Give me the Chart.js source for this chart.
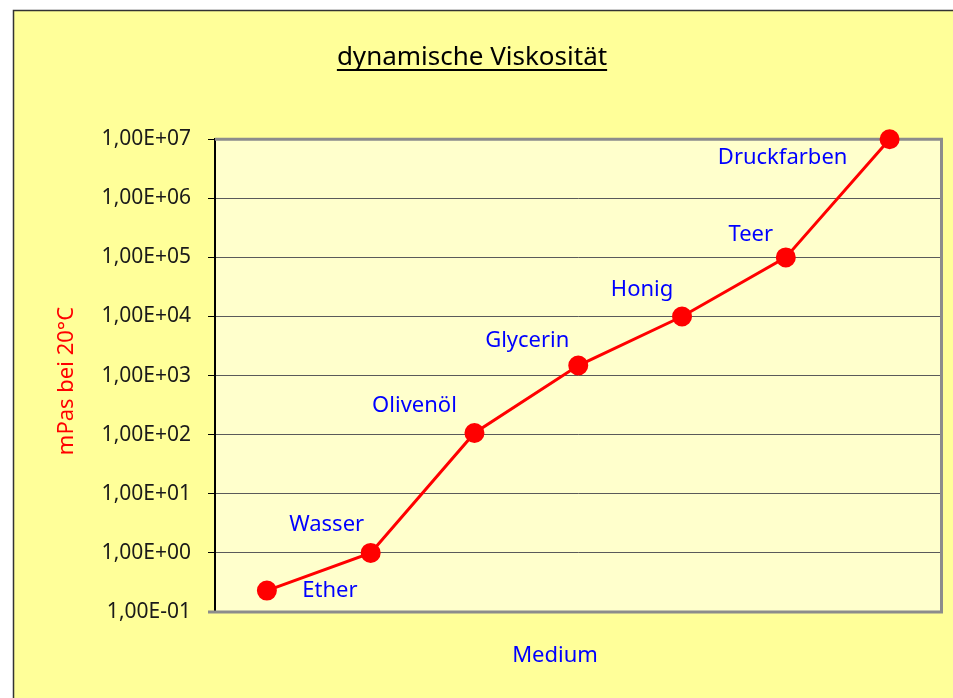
<!DOCTYPE html>
<html>
<head>
<meta charset="utf-8">
<title>dynamische Viskosität</title>
<script src="https://cdn.jsdelivr.net/npm/chart.js@4.4.0/dist/chart.umd.min.js"></script>
<style>
  html, body { margin: 0; padding: 0; background: #fff; }
  #wrap { position: absolute; left: 0; top: 0; width: 953px; height: 698px; }
</style>
</head>
<body>
<div id="wrap"><canvas id="chart"></canvas></div>
<script>
var media = ['Ether', 'Wasser', 'Olivenöl', 'Glycerin', 'Honig', 'Teer', 'Druckfarben'];
var viscosity = [0.23, 1, 107, 1480, 10000, 100000, 10000000];
var tickValues = [0.1, 1, 10, 100, 1000, 10000, 100000, 1000000, 10000000];
var chartTitle = 'dynamische Viskosität';
var yTitle = 'mPas bei 20°C';
var xTitle = 'Medium';

// where each point label sits, relative to its point (px)
var labelOffsets = [[63, 0], [-44, -28], [-60, -27], [-51, -25], [-40, -27], [-35, -23], [-107, 19]];

var FONT = '"Noto Sans", "Open Sans", sans-serif';

// 1000 -> "1,00E+03"
function sci(v) {
    var parts = Number(v).toExponential(2).split('e');
    var n = parseInt(parts[1], 10);
    var exp = String(Math.abs(n));
    if (exp.length < 2) exp = '0' + exp;
    return parts[0].replace('.', ',') + 'E' + (n < 0 ? '-' : '+') + exp;
}

var background = {
    id: 'background',
    beforeDraw: function(chart) {
        var ctx = chart.ctx, a = chart.chartArea;
        ctx.save();
        ctx.fillStyle = '#ffffff';
        ctx.fillRect(0, 0, chart.width, chart.height);
        ctx.fillStyle = '#ffff99';
        ctx.fillRect(13, 10, chart.width, chart.height);
        ctx.strokeStyle = '#333333';
        ctx.lineWidth = 1.5;
        ctx.beginPath();
        ctx.moveTo(13.5, chart.height + 5);
        ctx.lineTo(13.5, 10.5);
        ctx.lineTo(chart.width + 5, 10.5);
        ctx.stroke();
        ctx.fillStyle = '#ffffcc';
        ctx.fillRect(a.left, a.top, a.right - a.left, a.bottom - a.top);
        ctx.restore();
    },
    beforeDatasetsDraw: function(chart) {
        var ctx = chart.ctx, a = chart.chartArea;
        ctx.save();
        ctx.strokeStyle = '#8c8c8c';
        ctx.lineWidth = 3;
        ctx.beginPath();
        ctx.moveTo(a.left, a.top);
        ctx.lineTo(a.right, a.top);
        ctx.lineTo(a.right, a.bottom);
        ctx.lineTo(a.left - 7, a.bottom);
        ctx.stroke();
        ctx.restore();
    }
};

var labels = {
    id: 'pointLabels',
    afterDatasetsDraw: function(chart) {
        var ctx = chart.ctx;
        var meta = chart.getDatasetMeta(0);
        ctx.save();
        ctx.font = '22px ' + FONT;
        ctx.fillStyle = '#0000ff';
        ctx.textAlign = 'center';
        ctx.textBaseline = 'middle';
        meta.data.forEach(function(pt, i) {
            ctx.fillText(media[i], pt.x + labelOffsets[i][0], pt.y + labelOffsets[i][1]);
        });
        // x axis title, as in the original it is not centred on the plot
        ctx.fillText(xTitle, 555, 656);

        // y axis title
        ctx.save();
        ctx.translate(67, 381);
        ctx.rotate(-Math.PI / 2);
        ctx.fillStyle = '#ff0000';
        ctx.fillText(yTitle, 0, 0);
        ctx.restore();

        // underline the chart title
        var tb = chart.titleBlock;
        ctx.font = '26px ' + FONT;
        var w = ctx.measureText(chartTitle).width;
        var cx = (tb.left + tb.right) / 2;
        ctx.strokeStyle = '#000000';
        ctx.lineWidth = 2;
        ctx.beginPath();
        ctx.moveTo(cx - w / 2, 70);
        ctx.lineTo(cx + w / 2, 70);
        ctx.stroke();
        ctx.restore();
    }
};

new Chart(document.getElementById('chart'), {
    type: 'line',
    data: {
        labels: media,
        datasets: [{
            label: 'Viskosität',
            data: viscosity,
            borderColor: '#ff0000',
            backgroundColor: '#ff0000',
            borderWidth: 3,
            pointRadius: 8.5,
            pointHoverRadius: 8.5,
            pointBackgroundColor: '#ff0000',
            pointBorderColor: '#ff0000',
            tension: 0,
            clip: false
        }]
    },
    options: {
        responsive: true,
        maintainAspectRatio: false,
        animation: false,
        layout: { padding: { left: 0, right: 9, top: 0, bottom: 0 } },
        plugins: {
            legend: { display: false },
            tooltip: { enabled: false },
            title: {
                display: true,
                text: chartTitle,
                color: '#000000',
                font: { family: FONT, size: 26, weight: 'normal', lineHeight: 1.2 },
                padding: { top: 42, bottom: 66 }
            }
        },
        scales: {
            x: {
                type: 'category',
                offset: true,
                grid: { display: false, drawTicks: false },
                border: { display: false },
                ticks: { display: false },
                afterFit: function(scale) { scale.height = 86; }
            },
            y: {
                type: 'logarithmic',
                min: 0.1,
                max: 10000000,
                afterBuildTicks: function(scale) {
                    scale.ticks = tickValues.map(function(v) { return { value: v, major: true }; });
                },
                afterFit: function(scale) { scale.width = 215; },
                grid: { color: '#5a5a5a', lineWidth: 1, tickLength: 7, tickColor: '#000000', drawOnChartArea: true },
                border: { display: true, color: '#000000', width: 2 },
                ticks: {
                    color: '#1a1a1a',
                    padding: 17,
                    autoSkip: false,
                    font: { family: FONT, size: 21 },
                    callback: function(v) { return sci(v); }
                },
                title: { display: false, text: yTitle }
            }
        }
    },
    plugins: [background, labels]
});
</script>
</body>
</html>
